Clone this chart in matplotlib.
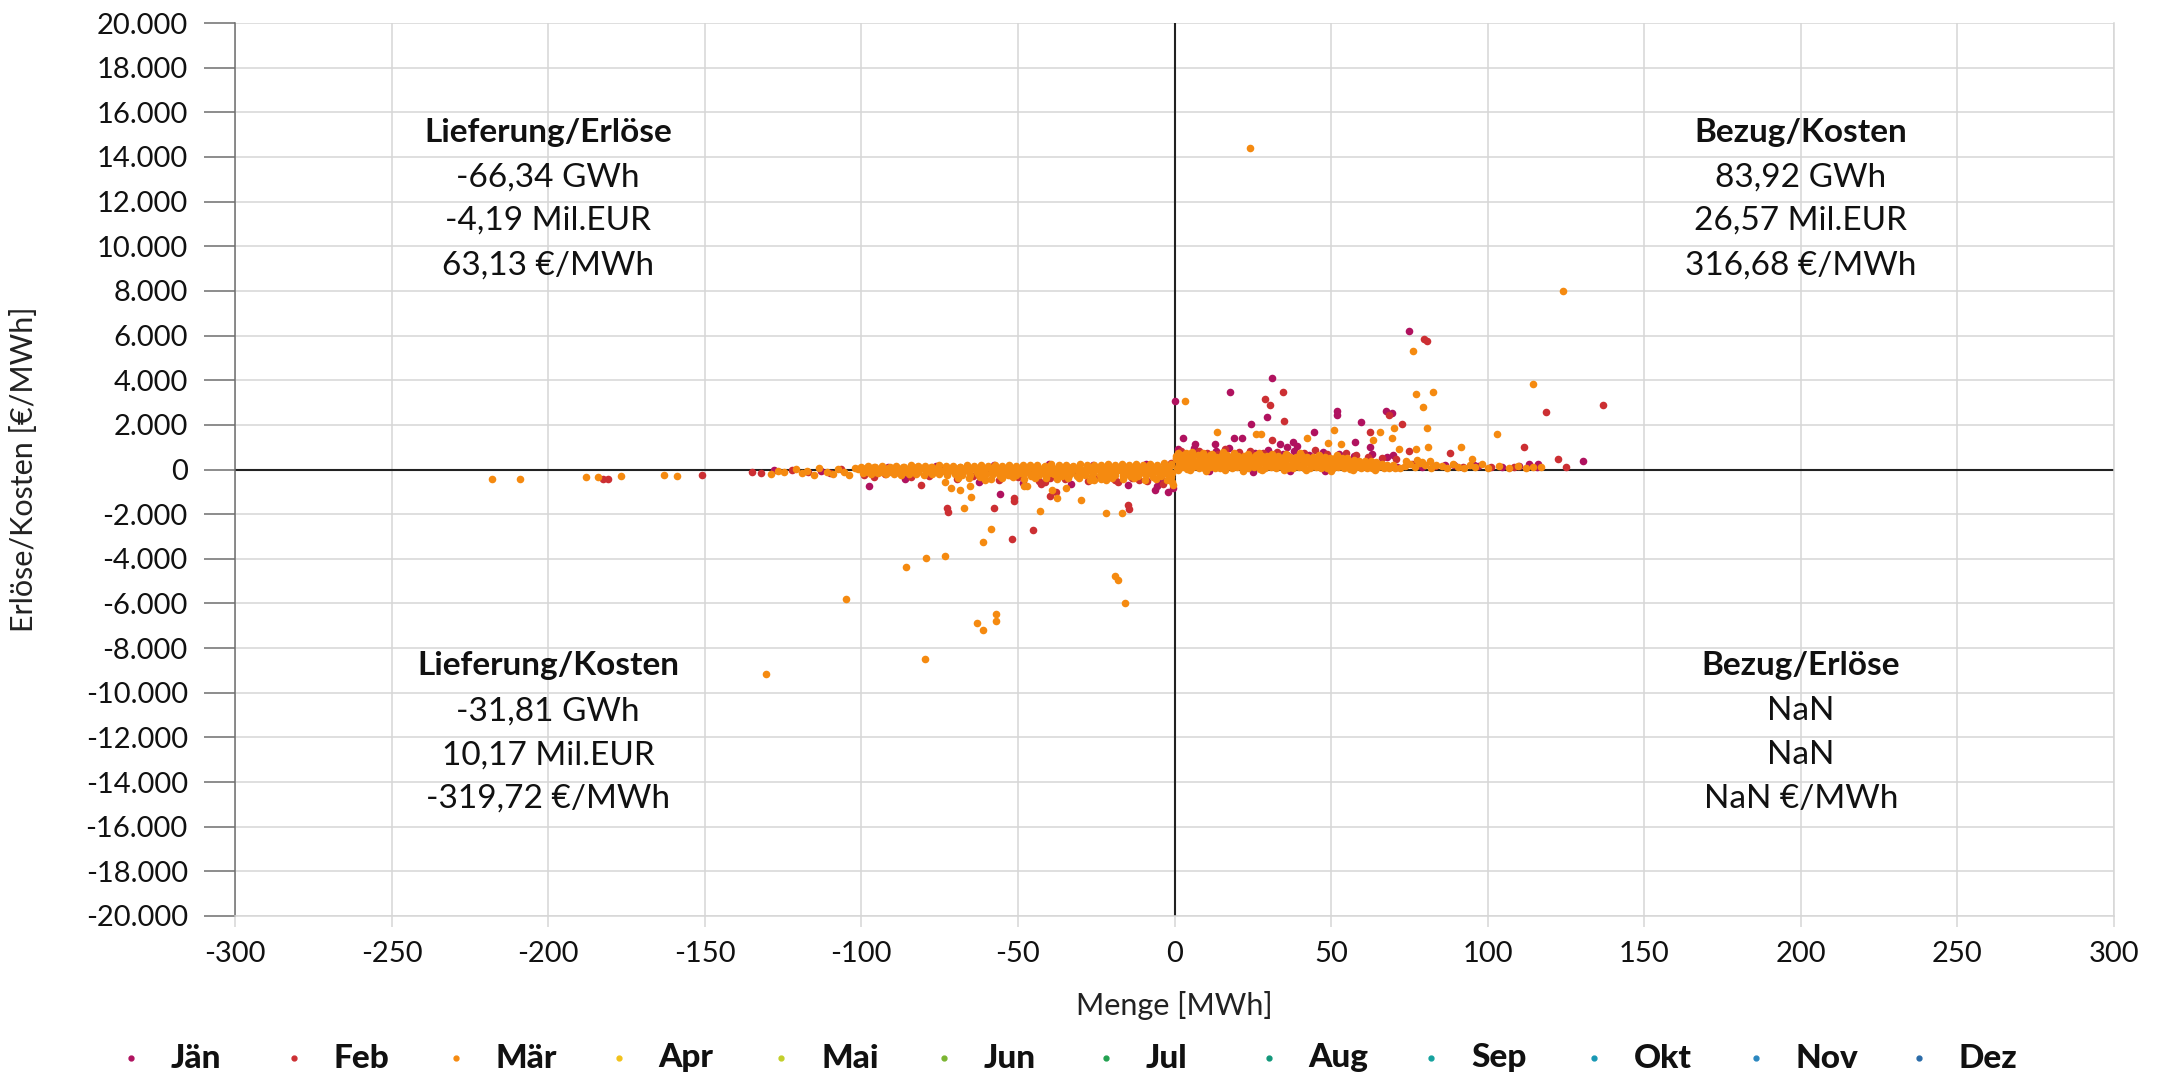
import matplotlib
matplotlib.use("Agg")
import matplotlib.pyplot as plt
from matplotlib.lines import Line2D
from matplotlib.ticker import FuncFormatter, MultipleLocator

plt.rcParams['font.family'] = ['Lato', 'DejaVu Sans']

# ---------------- data ----------------
month_names = ['Jän', 'Feb', 'Mär', 'Apr', 'Mai', 'Jun', 'Jul', 'Aug', 'Sep', 'Okt', 'Nov', 'Dez']
month_colors = ['#b0125f', '#cc2f33', '#f58a10', '#f2c21b', '#c3cf2a', '#7bb531', '#22a150',
                '#12977a', '#15a29e', '#1898b4', '#2a87c0', '#2a6ba8']

# Jän (Menge MWh, Erlöse/Kosten €/MWh)
jan_points = [
    (75, 6200), (31, 4120), (17.6, 3450), (0.3, 3050), (29.4, 2330), (24.3, 2060), (51.8, 2600),
    (51.8, 2460), (59.4, 2150), (67.4, 2600), (69.6, 2550), (44.4, 1660), (2.6, 1390), (6.7, 1120),
    (12.8, 1120), (18.9, 1390), (21.4, 1390), (37.7, 1250), (39.2, 1070), (62.3, 990), (57.5, 1210),
    (130.3, 400), (69.9, 630), (89.2, 200), (95.6, 200), (113.2, 240), (116.2, 240), (33.6, 1120),
    (36, 1000),
    (-97.4, -750), (-55.6, -1080), (-6.2, -900), (-5.5, -720), (-2.1, -1020), (-4.2, -370), (-52.4, -250),
    (1.0, 900), (3.6, 620), (6.3, 980), (9.7, 700), (13.2, 830), (17.4, 950), (21.0, 620), (25.8, 760),
    (29.9, 880), (34.5, 700), (38.2, 830), (43.0, 630), (47.5, 780), (52.6, 700), (57.3, 620), (63.0, 700),
    (67.8, 560), (71.0, 130), (79.0, 120), (86.5, 180), (96.8, 150), (104.5, 100), (110.0, 160),
    (115.8, 130), (11.0, -60), (25.0, -90), (37.0, -80), (48.0, -50),
    (-128.0, -10), (-113.0, -60), (-91.5, 120), (-86.0, -430), (-76.0, 170), (-62.5, -560), (-57.5, 200),
    (-48.5, -600), (-40.0, 230), (-33.0, -650), (-26.0, 210), (-15.0, -700), (-9.0, 260), (-4.8, -550),
    (-0.6, -830),
]

# Feb
feb_points = [
    (79.6, 5830), (80.5, 5740), (34.5, 3450), (29, 3140), (30.6, 2870), (35, 2190), (118.5, 2560),
    (68.4, 2460), (72.8, 2060), (62.3, 1700), (31, 1340), (74.8, 810), (88, 720), (111.5, 1030),
    (122.4, 490), (136.7, 2870), (125, 130),
    (-51.8, -3120), (-45.3, -2690), (-14.9, -1570), (-14.6, -1760), (-72.5, -1730), (-72.3, -1900),
    (-57.7, -1730), (-81, -690), (-51.3, -1390), (-51.3, -1290), (-39.6, -1200), (-37.7, -990),
    (-41.5, -570), (-42.5, -640), (-11.2, -460), (-19, -490), (-92.6, -210), (-182.5, -420),
    (-181, -420), (-150.8, -250), (-135, -100), (-132, -150),
    (2.0, 820), (4.5, 700), (7.8, 850), (10.3, 760), (13.9, 680), (16.2, 900), (20.5, 780), (24.0, 840),
    (28.2, 720), (32.8, 800), (36.0, 650), (41.3, 740), (44.9, 880), (48.6, 690), (54.7, 760),
    (58.1, 640), (61.9, 580), (66.4, 520), (70.6, 460), (75.9, 260), (83.1, 150), (92.0, 130),
    (101.0, 90), (108.4, 120), (5.7, 350), (14.2, 420), (22.7, 300), (30.1, 480), (39.6, 350),
    (47.3, 250), (56.2, 330),
    (-122.0, -20), (-117.0, -120), (-106.5, 30), (-96.0, -320), (-89.0, -90), (-84.0, -350),
    (-78.5, -280), (-73.5, 60), (-69.4, -420), (-64.5, -310), (-60.2, -130), (-55.9, -470),
    (-50.0, -330), (-46.5, 80), (-43.2, -510), (-39.8, -360), (-35.1, -440), (-31.6, -150),
    (-27.5, -520), (-24.2, -330), (-18.2, -560), (-13.7, -380), (-8.9, -520), (-3.6, -640),
    (-1.0, 300), (-99.0, -250), (-110.0, -140),
]

# Mär - outliers
mar_points = [
    (24, 14400), (124, 8000), (76, 5290), (3.5, 3050), (77, 3360), (82.7, 3450), (79.2, 2820),
    (114.4, 3810), (80.5, 1840), (103, 1570), (70, 1840), (65.5, 1700), (13.7, 1660), (26, 1570),
    (27.5, 1610), (51, 1790), (63.3, 1340), (69.3, 1390), (71.6, 900), (77, 900), (81, 1030),
    (91.6, 990), (95, 490), (42.4, 1420), (49.1, 1200), (53.2, 1160),
    (-130.4, -9180), (-105, -5780), (-85.7, -4360), (-79.2, -3960), (-73.3, -3890), (-79.8, -8470),
    (-63, -6870), (-61.2, -7210), (-57.1, -6470), (-57.1, -6800), (-58.6, -2660), (-61.1, -3260),
    (-19.1, -4750), (-18, -4930), (-15.9, -5990), (-22, -1940), (-16.7, -1940), (-67.3, -1730),
    (-73.2, -570), (-71.5, -840), (-68.4, -930), (-65.2, -750), (-65, -1240), (-42.8, -1880),
    (-37.5, -1270), (-39.1, -910), (-34.5, -810), (-30, -1360), (-48.1, -720), (-47.1, -720),
    (-22, -450), (-60.6, -460), (-25.8, -490), (-218, -420), (-209, -420), (-188, -350), (-184, -350),
    (-176.6, -300), (-163, -250), (-158.8, -280), (-129, -200),
]

# Mär - dense band, positive quantities
mar_band_pos = [
    (0.8, 60), (2.5, 90), (4.1, 40), (6.0, 110), (7.7, 70), (9.4, 50), (11.2, 100), (13.0, 80),
    (14.6, 45), (16.5, 120), (18.3, 65), (20.1, 95), (21.8, 55), (23.6, 85), (25.5, 105), (27.2, 40),
    (29.0, 75), (30.8, 115), (32.5, 60), (34.4, 90), (36.1, 50), (37.9, 80), (39.8, 100), (41.5, 70),
    (43.3, 45), (45.2, 110), (46.9, 60), (48.7, 85), (50.6, 55), (52.3, 95), (54.1, 75), (56.0, 40),
    (57.8, 100), (59.5, 65), (61.4, 80), (63.2, 50), (65.0, 90), (66.8, 60), (68.5, 70), (70.4, 45),
    (72.1, 55),
    (1.5, 260), (3.3, 300), (5.2, 230), (7.0, 280), (8.8, 310), (10.5, 240), (12.3, 270), (14.1, 290),
    (16.0, 220), (17.7, 320), (19.5, 250), (21.4, 280), (23.1, 300), (24.9, 235), (26.7, 265),
    (28.5, 310), (30.3, 245), (32.0, 275), (33.8, 290), (35.6, 230), (37.5, 260), (39.2, 300),
    (41.0, 240), (42.8, 285), (44.6, 250), (46.4, 270), (48.2, 225), (50.0, 295), (51.8, 255),
    (53.6, 240), (55.4, 280), (57.1, 230), (58.9, 260), (60.7, 215), (62.5, 250), (64.3, 230),
    (66.1, 245), (68.0, 220), (69.8, 210),
    (0.6, 450), (2.4, 420), (4.3, 480), (6.1, 400), (8.0, 460), (9.8, 430), (11.6, 470), (13.4, 410),
    (15.3, 440), (17.1, 490), (18.9, 420), (20.7, 455), (22.5, 400), (24.4, 470), (26.2, 435),
    (28.0, 410), (29.8, 460), (31.6, 425), (33.5, 445), (35.3, 400), (37.1, 470), (38.9, 415),
    (40.7, 450), (42.6, 395), (44.4, 430), (46.2, 410), (48.0, 440), (49.9, 390), (51.7, 420),
    (53.5, 400), (55.3, 380), (57.2, 410), (59.0, 370), (60.8, 390), (62.7, 360), (64.5, 350),
    (0.4, 600), (2.1, 640), (4.0, 580), (5.8, 620), (7.6, 660), (9.5, 590), (11.3, 630), (13.1, 570),
    (15.0, 610), (16.8, 650), (18.6, 580), (20.4, 620), (22.3, 600), (24.1, 560), (25.9, 640),
    (27.8, 590), (29.6, 610), (31.4, 570), (33.2, 600), (35.1, 550), (36.9, 580), (38.7, 560),
    (40.6, 590), (42.4, 540), (44.2, 570), (46.1, 530), (47.9, 550), (49.7, 520), (51.5, 540),
    (53.4, 500), (55.2, 510),
    (1.2, 760), (3.8, 720), (5.5, 800), (9.0, 740), (12.0, 700), (15.5, 780), (19.0, 720), (23.5, 690),
    (27.0, 750), (31.0, 700), (35.5, 680), (40.0, 720), (46.0, 660), (52.0, 650),
    (1, -40), (5, -20), (10, -50), (16, -30), (22, -60), (28, -20), (35, -40), (42, -30), (50, -50),
    (57, -20), (64, -40),
    (73.5, 150), (75.2, 250), (76.8, 100), (78.5, 300), (80.1, 180), (82.0, 80), (83.6, 220),
    (85.3, 140), (87.1, 60), (88.9, 260), (90.6, 120), (92.4, 50), (94.2, 190), (96.0, 90),
    (98.1, 230), (100.2, 70), (103.5, 160), (106.8, 80), (109.6, 140), (112.3, 60), (114.5, 110),
    (117.0, 90), (74.0, 400), (77.5, 420), (79.0, 350), (81.5, 380), (0.5, 500),
]

# Mär - dense band, negative quantities
mar_band_neg = [
    (-126.5, -50), (-124.8, -120), (-121.0, 30), (-119.0, -150), (-117.5, -60), (-115.2, -250),
    (-113.5, 60), (-111.0, -100), (-109.0, -180), (-107.3, 20), (-105.5, -90), (-103.8, -260),
    (-102.0, 80),
    (-100.0, 120), (-97.8, 150), (-95.5, 100), (-93.3, 170), (-91.0, 130), (-88.8, 160), (-86.5, 110),
    (-84.3, 180), (-82.0, 140), (-79.8, 170), (-77.5, 120), (-75.3, 190), (-73.0, 150), (-70.8, 170),
    (-68.5, 130), (-66.3, 200), (-64.0, 160), (-61.8, 180), (-59.5, 140), (-57.3, 210), (-55.0, 170),
    (-52.8, 190), (-50.5, 150), (-48.3, 220), (-46.0, 180), (-43.8, 200), (-41.5, 160), (-39.3, 230),
    (-37.0, 190), (-34.8, 210), (-32.5, 170), (-30.3, 240), (-28.0, 200), (-25.8, 220), (-23.5, 180),
    (-21.3, 250), (-19.0, 210), (-16.8, 230), (-14.5, 190), (-12.3, 260), (-10.0, 220), (-7.8, 250),
    (-5.5, 200), (-3.3, 270), (-1.0, 230),
    (-101.2, 10), (-98.9, -30), (-96.6, 40), (-94.4, -10), (-92.1, 20), (-89.9, -40), (-87.6, 30),
    (-85.4, 0), (-83.1, -20), (-80.9, 50), (-78.6, -30), (-76.4, 10), (-74.1, -50), (-71.9, 30),
    (-69.6, 0), (-67.4, -40), (-65.1, 20), (-62.9, -10), (-60.6, 40), (-58.4, -30), (-56.1, 10),
    (-53.9, -20), (-51.6, 30), (-49.4, -50), (-47.1, 0), (-44.9, 20), (-42.6, -40), (-40.4, 10),
    (-38.1, -20), (-35.9, 40), (-33.6, -10), (-31.4, 20), (-29.1, -30), (-26.9, 0), (-24.6, 30),
    (-22.4, -40), (-20.1, 10), (-17.9, -20), (-15.6, 40), (-13.4, 0), (-11.1, -30), (-8.9, 20),
    (-6.6, -10), (-4.4, 30), (-2.1, -20),
    (-99.5, -170), (-97.0, -200), (-94.6, -160), (-92.2, -220), (-89.7, -190), (-87.3, -230),
    (-84.8, -180), (-82.4, -210), (-80.0, -240), (-77.5, -190), (-75.1, -220), (-72.6, -250),
    (-70.2, -200), (-67.8, -230), (-65.3, -260), (-62.9, -210), (-60.4, -240), (-58.0, -200),
    (-55.6, -270), (-53.1, -230), (-50.7, -250), (-48.2, -210), (-45.8, -280), (-43.4, -240),
    (-40.9, -260), (-38.5, -220), (-36.0, -290), (-33.6, -250), (-31.2, -270), (-28.7, -230),
    (-26.3, -300), (-23.8, -260), (-21.4, -280), (-19.0, -240), (-16.5, -310), (-14.1, -270),
    (-11.6, -290), (-9.2, -250), (-6.8, -320), (-4.3, -280), (-1.9, -300),
    (-69.0, -360), (-65.5, -400), (-62.0, -340), (-58.5, -420), (-55.0, -380), (-51.5, -350),
    (-48.0, -440), (-44.5, -390), (-41.0, -360), (-37.5, -430), (-34.0, -400), (-30.5, -370),
    (-27.0, -450), (-23.5, -410), (-20.0, -380), (-16.5, -440), (-13.0, -400), (-9.5, -460),
    (-6.0, -420), (-2.5, -480), (-0.8, -560), (-0.5, -700), (-1.2, -350),
    # extra rows that fill the band
    (-98.6, 70), (-96.1, 90), (-93.8, 60), (-91.5, 85), (-89.2, 75), (-86.8, 95), (-84.6, 65),
    (-82.3, 90), (-79.9, 80), (-77.7, 100), (-75.4, 70), (-73.1, 95), (-70.9, 85), (-68.6, 105),
    (-66.4, 75), (-64.1, 100), (-61.9, 90), (-59.6, 110), (-57.4, 80), (-55.1, 105), (-52.9, 95),
    (-50.6, 115), (-48.4, 85), (-46.1, 110), (-43.9, 100), (-41.6, 120), (-39.4, 90), (-37.1, 115),
    (-34.9, 105), (-32.6, 125), (-30.4, 95), (-28.1, 120), (-25.9, 110), (-23.6, 130), (-21.4, 100),
    (-19.1, 125), (-16.9, 115), (-14.6, 135), (-12.4, 105), (-10.1, 130), (-7.9, 120), (-5.6, 140),
    (-3.4, 110), (-1.5, 135),
    (-98.0, -100), (-95.7, -120), (-93.4, -90), (-91.1, -115), (-88.7, -105), (-86.4, -125),
    (-84.1, -95), (-81.8, -120), (-79.4, -110), (-77.1, -130), (-74.8, -100), (-72.4, -125),
    (-70.1, -115), (-67.8, -135), (-65.5, -105), (-63.2, -130), (-60.8, -120), (-58.5, -140),
    (-56.2, -110), (-53.8, -135), (-51.5, -125), (-49.2, -145), (-46.9, -115), (-44.5, -140),
    (-42.2, -130), (-39.9, -150), (-37.6, -120), (-35.2, -145), (-32.9, -135), (-30.6, -155),
    (-28.2, -125), (-25.9, -150), (-23.6, -140), (-21.3, -160), (-18.9, -130), (-16.6, -155),
    (-14.3, -145), (-12.0, -165), (-9.6, -135), (-7.3, -160), (-5.0, -150), (-2.7, -170),
    (-0.9, -140),
]

# quadrant summaries
q_titles = ['Lieferung/Erlöse', 'Bezug/Kosten', 'Lieferung/Kosten', 'Bezug/Erlöse']
q_energy = ['-66,34 GWh', '83,92 GWh', '-31,81 GWh', 'NaN']
q_money = ['-4,19 Mil.EUR', '26,57 Mil.EUR', '10,17 Mil.EUR', 'NaN']
q_price = ['63,13 €/MWh', '316,68 €/MWh', '-319,72 €/MWh', 'NaN €/MWh']
q_x = [-200, 200, -200, 200]
q_y = [[15100, 13100, 11150, 9150], [15100, 13100, 11150, 9150],
       [-8780, -10820, -12790, -14760], [-8780, -10820, -12790, -14760]]

# ---------------- figure ----------------
W, H = 2159, 1077
fig = plt.figure(figsize=(W / 100, H / 100), dpi=100)
ax = fig.add_axes([235 / W, 1 - 916 / H, (2114 - 235) / W, (916 - 23) / H])

ax.set_xlim(-300, 300)
ax.set_ylim(-20000, 20000)
ax.xaxis.set_major_locator(MultipleLocator(50))
ax.yaxis.set_major_locator(MultipleLocator(2000))


def de_fmt(v, pos):
    return f"{int(round(v)):,}".replace(',', '.')


ax.yaxis.set_major_formatter(FuncFormatter(de_fmt))
ax.xaxis.set_major_formatter(FuncFormatter(de_fmt))

ax.grid(True, color='#d6d6d6', linewidth=1.1, zorder=0)
ax.set_axisbelow(True)
for side in ['left', 'top', 'right', 'bottom']:
    ax.spines[side].set_color('#6e6e6e')
    ax.spines[side].set_linewidth(1.1)
ax.spines['top'].set_visible(False)
ax.spines['right'].set_color('#d6d6d6')
ax.spines['bottom'].set_color('#d6d6d6')

ax.tick_params(axis='y', length=22, width=1.1, color='#6e6e6e', labelsize=21, pad=12,
               labelcolor='#111111')
ax.tick_params(axis='x', length=8, width=1.1, color='#d6d6d6', labelsize=21, pad=10,
               labelcolor='#111111')

ax.axhline(0, color='#222222', linewidth=1.5, zorder=1)
ax.axvline(0, color='#222222', linewidth=1.5, zorder=1)

series = [
    (jan_points, month_colors[0]),
    (feb_points, month_colors[1]),
    (mar_band_neg + mar_band_pos + mar_points, month_colors[2]),
]
for pts, col in series:
    xs = [p[0] for p in pts]
    ys = [p[1] for p in pts]
    ax.scatter(xs, ys, s=30, color=col, linewidths=0, zorder=3)

for i in range(4):
    lines = [q_titles[i], q_energy[i], q_money[i], q_price[i]]
    for j, t in enumerate(lines):
        ax.text(q_x[i], q_y[i][j], t, ha='center', va='center', fontsize=24,
                fontweight='bold' if j == 0 else 'normal', color='#111111', zorder=4)

ax.set_xlabel('Menge [MWh]', fontsize=22, color='#222222')
ax.xaxis.set_label_coords(0.5, -(991 - 916) / (916 - 23))
ax.set_ylabel('Erlöse/Kosten [€/MWh]', fontsize=22, color='#222222')
ax.yaxis.set_label_coords(-(235 - 38) / (2114 - 235), 0.5)

# legend row
leg_y = 1 - 1058 / H
for i, (name, col) in enumerate(zip(month_names, month_colors)):
    xd = 131 + i * 162.5
    fig.add_artist(Line2D([xd / W], [leg_y], marker='o', markersize=3.5, color=col,
                          linestyle='None', transform=fig.transFigure))
    fig.text((xd + 40) / W, leg_y, name, fontsize=24, fontweight='black', color='#111111',
             ha='left', va='center')

fig.savefig('out.png', dpi=100, facecolor='white')
